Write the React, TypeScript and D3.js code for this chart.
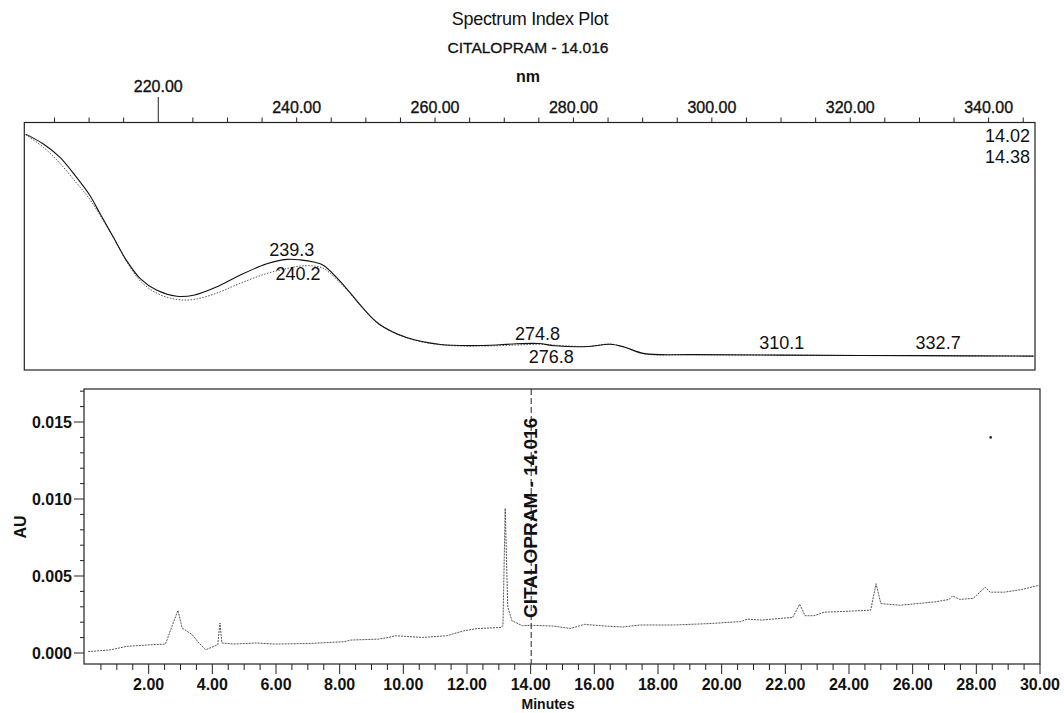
import React from 'react';
import * as d3 from 'd3';

// ---------- Spectrum (top panel) data ----------
const wavelengths = [200.85, 203.4, 205.8, 208.2, 210.1, 211.6, 213.5, 215.4, 217.4, 219.8, 222.7, 225.1, 228.4, 231.8, 235.7, 238.6, 240.5, 242.5, 243.9, 246.9, 249.4, 251.9, 255.9, 260.8, 266.8, 271.8, 275.0, 277.3, 282.2, 285.3, 287.3, 290.3, 297.3, 310, 330, 346.5];
const spectrum1402 = [0.953, 0.913, 0.859, 0.778, 0.706, 0.631, 0.537, 0.443, 0.369, 0.322, 0.298, 0.302, 0.335, 0.383, 0.429, 0.447, 0.445, 0.436, 0.422, 0.339, 0.256, 0.186, 0.131, 0.103, 0.099, 0.106, 0.107, 0.098, 0.095, 0.104, 0.093, 0.066, 0.062, 0.06, 0.058, 0.056];
const spectrum1438 = [0.95, 0.9, 0.835, 0.755, 0.69, 0.625, 0.535, 0.44, 0.36, 0.31, 0.285, 0.285, 0.31, 0.35, 0.39, 0.41, 0.42, 0.42, 0.41, 0.335, 0.255, 0.185, 0.13, 0.102, 0.097, 0.101, 0.104, 0.1, 0.095, 0.105, 0.093, 0.065, 0.062, 0.06, 0.058, 0.056];
const spectrumLegend = ['14.02', '14.38'];
const wlTicks = d3.range(205, 346, 5);
const wlLabels = [220, 240, 260, 280, 300, 320, 340];
const markerWavelength = 220;
const peakLabels = [
  { wl: 239.3, text: '239.3', row: 0 },
  { wl: 240.2, text: '240.2', row: 1 },
  { wl: 274.8, text: '274.8', row: 2 },
  { wl: 276.8, text: '276.8', row: 3 },
  { wl: 310.1, text: '310.1', row: 4 },
  { wl: 332.7, text: '332.7', row: 4 },
];

// ---------- Chromatogram (bottom panel) data ----------
const chromTimes = [0.1, 0.16, 0.79, 1.31, 1.95, 2.52, 2.58, 2.73, 2.92, 3.05, 3.37, 3.58, 3.79, 4.05, 4.17, 4.24, 4.3, 4.68, 5.36, 5.98, 7.06, 8.13, 8.35, 9.21, 9.53, 9.75, 10.07, 10.61, 11.36, 11.9, 12.33, 13.08, 13.13, 13.2, 13.28, 13.41, 13.74, 14.0, 14.71, 15.25, 15.69, 16.34, 16.89, 17.43, 18.52, 19.61, 20.6, 20.81, 21.25, 22.23, 22.45, 22.62, 22.9, 23.22, 23.86, 24.14, 24.68, 24.85, 25.0, 25.6, 26.7, 27.15, 27.25, 27.48, 27.9, 28.28, 28.44, 28.88, 29.42, 29.97];
const chromAU = [0.0001, 0.0001, 0.0002, 0.00043, 0.00052, 0.00058, 0.00086, 0.00173, 0.00277, 0.00162, 0.00119, 0.00065, 0.00021, 0.00043, 0.00054, 0.00195, 0.00065, 0.00058, 0.00065, 0.00058, 0.00062, 0.00073, 0.00084, 0.0009, 0.00101, 0.00112, 0.00108, 0.00101, 0.00112, 0.00144, 0.00159, 0.00166, 0.0018, 0.0094, 0.003, 0.0021, 0.00177, 0.0018, 0.00175, 0.00159, 0.00186, 0.00175, 0.00169, 0.00182, 0.00182, 0.00191, 0.00204, 0.0022, 0.00214, 0.00231, 0.00317, 0.00242, 0.00242, 0.00265, 0.0027, 0.00273, 0.00278, 0.0045, 0.00321, 0.0031, 0.00332, 0.00348, 0.00371, 0.00348, 0.00355, 0.00427, 0.00395, 0.00395, 0.00412, 0.0044];
const peakTime = 14.016;
const peakName = 'CITALOPRAM - 14.016';
const strayPoints = [{ t: 28.45, au: 0.014 }];
const timeTicks = d3.range(0.5, 30.001, 0.5);
const timeLabels = d3.range(2, 30.001, 2);
const auTicks = d3.range(0, 0.01701, 0.001);
const auLabels = [0, 0.005, 0.01, 0.015];

const FONT = 'Liberation Sans, Arial, Helvetica, sans-serif';

export default function App() {
  // top panel geometry
  const tL = 24.3, tR = 1035, tT = 122.5, tB = 370;
  const xTop = d3.scaleLinear().domain([200.64, 346.7]).range([tL, tR]);
  const yTop = d3.scaleLinear().domain([0, 1]).range([tB, tT]);

  // bottom panel geometry
  const bL = 84, bR = 1040, bT = 389, bB = 664;
  const xBot = d3.scaleLinear().domain([0, 30]).range([85, 1040]);
  const yBot = d3.scaleLinear().domain([0, 0.015]).range([653, 422]);

  const specLine = d3.line<number>()
    .x((_, i) => xTop(wavelengths[i]))
    .y((d) => yTop(d))
    .curve(d3.curveCatmullRom);

  const chromLine = d3.line<number>()
    .x((_, i) => xBot(chromTimes[i]))
    .y((d) => yBot(d));

  const labelRowY = [256, 280, 340, 363, 349];

  const fmt2 = d3.format('.2f');
  const fmt3 = d3.format('.3f');

  return (
    <svg width={1064} height={713} style={{ position: 'absolute', left: 0, top: 0, background: '#fff' }} fontFamily={FONT}>
      <rect x={0} y={0} width={1064} height={713} fill="#fff" />
      {/* titles */}
      <text x={530} y={25} textAnchor="middle" fontSize={18} fill="#111" letterSpacing={-0.3}>Spectrum Index Plot</text>
      <text x={528} y={53} textAnchor="middle" fontSize={15.5} fill="#111" stroke="#111" strokeWidth={0.3}>{peakName}</text>
      <text x={528} y={82} textAnchor="middle" fontSize={16} fill="#111" fontWeight="bold">nm</text>

      {/* top panel frame */}
      <rect x={tL} y={tT} width={tR - tL} height={tB - tT} fill="none" stroke="#222" strokeWidth={1.2} />
      {/* top axis ticks */}
      {wlTicks.map((w) => (
        <line key={'wt' + w} x1={xTop(w)} x2={xTop(w)} y1={tT} y2={w === markerWavelength ? 97 : tT - 5} stroke="#222" strokeWidth={1} />
      ))}
      {wlLabels.map((w) => (
        <text key={'wl' + w} x={xTop(w)} y={w === markerWavelength ? 92 : 113} textAnchor="middle" fontSize={16} fill="#111" stroke="#111" strokeWidth={0.35}>{fmt2(w)}</text>
      ))}
      {/* spectra */}
      <path d={specLine(spectrum1438) || ''} fill="none" stroke="#555" strokeWidth={1} strokeDasharray="1.5 1.5" />
      <path d={specLine(spectrum1402) || ''} fill="none" stroke="#111" strokeWidth={1.1} />
      {/* legend */}
      {spectrumLegend.map((s, i) => (
        <text key={s} x={1030} y={142 + i * 21} textAnchor="end" fontSize={18} fill="#111">{s}</text>
      ))}
      {/* peak labels */}
      {peakLabels.map((p) => (
        <text key={p.text} x={xTop(p.wl)} y={labelRowY[p.row]} textAnchor="middle" fontSize={18} fill="#111">{p.text}</text>
      ))}

      {/* bottom panel frame */}
      <rect x={bL} y={bT} width={bR - bL} height={bB - bT} fill="none" stroke="#222" strokeWidth={1.2} />
      {/* y ticks */}
      {auTicks.map((v, i) => {
        const major = i % 5 === 0;
        return <line key={'yt' + i} x1={bL} x2={bL - (major ? 10 : 4)} y1={yBot(v)} y2={yBot(v)} stroke="#222" strokeWidth={1} />;
      })}
      {auLabels.map((v) => (
        <text key={'yl' + v} x={72} y={yBot(v) + 5.5} textAnchor="end" fontSize={16} fontWeight="bold" fill="#111">{fmt3(v)}</text>
      ))}
      <text transform={`translate(26,${527}) rotate(-90)`} textAnchor="middle" fontSize={16} fontWeight="bold" fill="#111">AU</text>
      {/* x ticks */}
      {timeTicks.map((t, i) => {
        const major = Math.abs(t / 2 - Math.round(t / 2)) < 1e-6;
        return <line key={'xt' + i} x1={xBot(t)} x2={xBot(t)} y1={bB} y2={bB + (major ? 10 : 6)} stroke="#222" strokeWidth={1} />;
      })}
      {timeLabels.map((t) => (
        <text key={'xl' + t} x={xBot(t)} y={690} textAnchor="middle" fontSize={16} fontWeight="bold" fill="#111">{fmt2(t)}</text>
      ))}
      <text x={548} y={709} textAnchor="middle" fontSize={14} fontWeight="bold" fill="#111">Minutes</text>

      {/* chromatogram */}
      <path d={chromLine(chromAU) || ''} fill="none" stroke="#555" strokeWidth={1} strokeDasharray="2 1" />
      {strayPoints.map((p, i) => (
        <circle key={'sp' + i} cx={xBot(p.t)} cy={yBot(p.au)} r={1.3} fill="#222" />
      ))}
      {/* peak marker */}
      <line x1={xBot(peakTime)} x2={xBot(peakTime)} y1={bT} y2={bB} stroke="#222" strokeWidth={1} strokeDasharray="6 3" />
      <text transform={`translate(${xBot(peakTime) + 6},618) rotate(-90)`} textAnchor="start" fontSize={19} fontWeight="bold" fill="#111">{peakName}</text>
    </svg>
  );
}
